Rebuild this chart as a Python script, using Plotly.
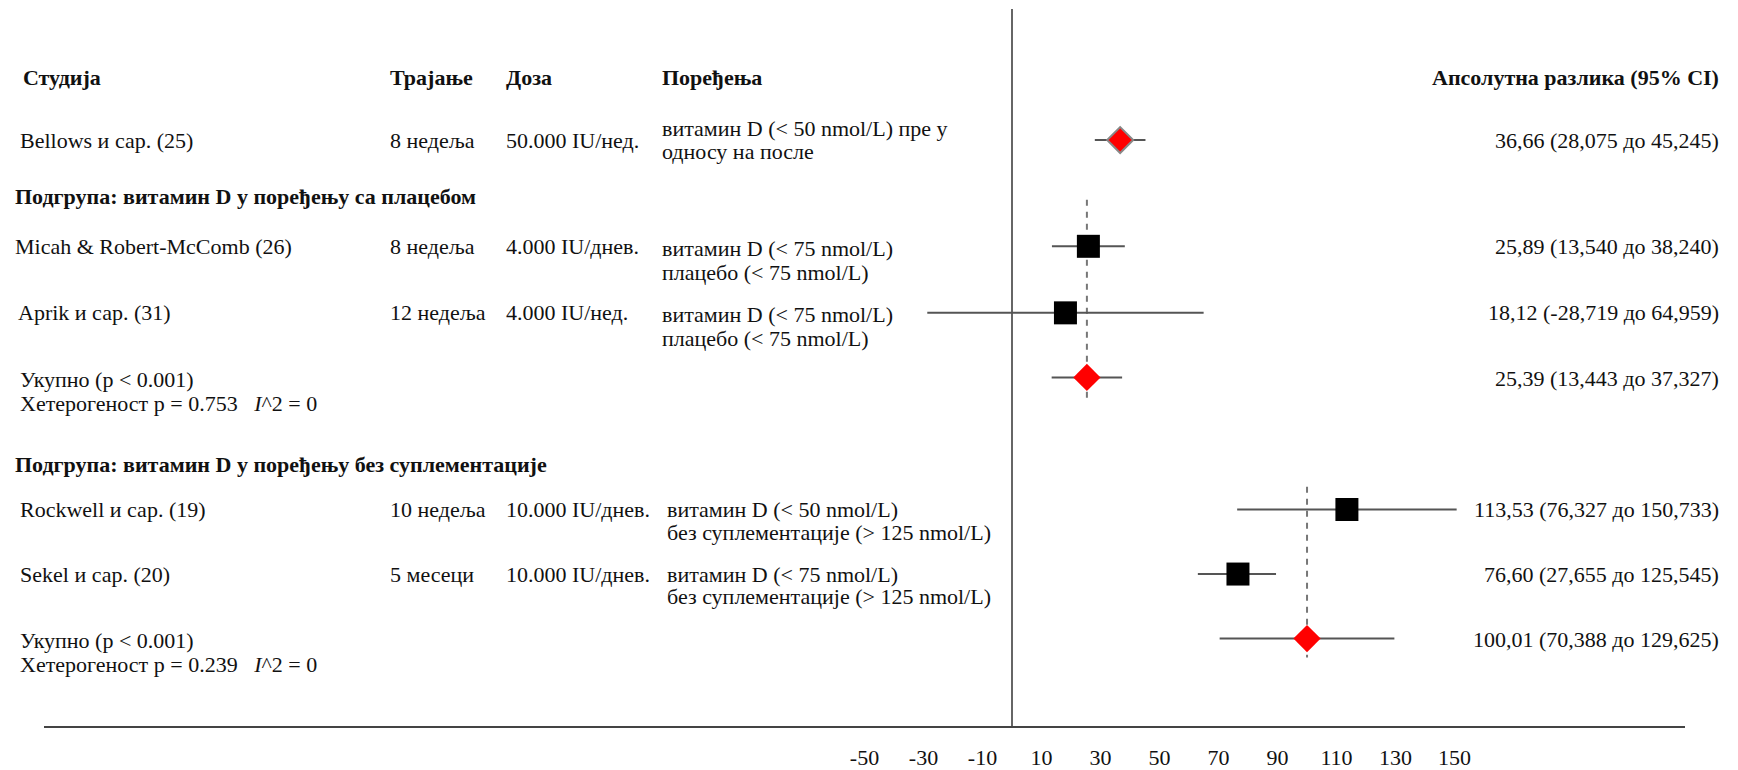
import plotly.graph_objects as go

# ---------------- data ----------------
study_names = ["Bellows и сар. (25)", "Micah & Robert-McComb (26)", "Aprik и сар. (31)",
               "Rockwell и сар. (19)", "Sekel и сар. (20)"]
durations = ["8 недеља", "8 недеља", "12 недеља", "10 недеља", "5 месеци"]
doses = ["50.000 IU/нед.", "4.000 IU/днев.", "4.000 IU/нед.", "10.000 IU/днев.", "10.000 IU/днев."]
comparison_line1 = ["витамин D (< 50 nmol/L) пре у", "витамин D (< 75 nmol/L)", "витамин D (< 75 nmol/L)",
                    "витамин D (< 50 nmol/L)", "витамин D (< 75 nmol/L)"]
comparison_line2 = ["односу на после", "плацебо (< 75 nmol/L)", "плацебо (< 75 nmol/L)",
                    "без суплементације (> 125 nmol/L)", "без суплементације (> 125 nmol/L)"]
study_est = [36.66, 25.89, 18.12, 113.53, 76.60]
study_lo = [28.075, 13.54, -28.719, 76.327, 63.0]     # whisker as drawn
study_hi = [45.245, 38.24, 64.959, 150.733, 89.5]
study_labels = ["36,66 (28,075 до 45,245)", "25,89 (13,540 до 38,240)", "18,12 (-28,719 до 64,959)",
                "113,53 (76,327 до 150,733)", "76,60 (27,655 до 125,545)"]

subgroup_titles = ["Подгрупа: витамин D у поређењу са плацебом",
                   "Подгрупа: витамин D у поређењу без суплементације"]
pooled_est = [25.39, 100.01]
pooled_lo = [13.443, 70.388]
pooled_hi = [37.327, 129.625]
pooled_labels = ["25,39 (13,443 до 37,327)", "100,01 (70,388 до 129,625)"]
pooled_line1 = ["Укупно (p < 0.001)", "Укупно (p < 0.001)"]
pooled_line2 = ["Хетерогеност p = 0.753\u00a0\u00a0\u00a0<i>I</i>^2 = 0",
                "Хетерогеност p = 0.239\u00a0\u00a0\u00a0<i>I</i>^2 = 0"]

headers = ["Студија", "Трајање", "Доза", "Поређења", "Апсолутна разлика (95% CI)"]
tick_values = [-50, -30, -10, 10, 30, 50, 70, 90, 110, 130, 150]

# ---------------- layout (pixel geometry) ----------------
W, H = 1738, 770
ZERO_PX, PX_PER_UNIT = 1012, 2.95
AXIS_Y = 732
HEADER_Y = 78
STUDY_Y = [141, 248, 315, 513, 578]
SUBGROUP_Y = [198, 468]
POOLED_Y = [380, 643]
NAME_X = [18, 13, 16, 18, 18]
COMP_X = [660, 660, 660, 665, 665]
COMP_CENTERED = [True, False, False, False, False]
COMP_OFFSET = [0, 2, 2, 0, 0]
COMP_GAP = [24, 24, 24, 23, 23]
DUR_X, DOSE_X, RIGHT_X = 388, 504, 1721
FONT = "Liberation Serif"
FS = 22
TXT = "#111111"
GRAY = "#555555"

fig = go.Figure()

def pp(xpix):
    return xpix / W

ann = []
def text(xpix, y, s, anchor="left", bold=False):
    ann.append(dict(x=pp(xpix), xref="paper", y=y, yref="y", text=("<b>%s</b>" % s) if bold else s,
                    showarrow=False, xanchor=anchor, yanchor="middle",
                    font=dict(family=FONT, size=FS, color=TXT)))

# headers
text(21, HEADER_Y, headers[0], bold=True)
text(DUR_X, HEADER_Y, headers[1], bold=True)
text(DOSE_X, HEADER_Y, headers[2], bold=True)
text(COMP_X[0], HEADER_Y, headers[3], bold=True)
text(RIGHT_X, HEADER_Y, headers[4], anchor="right", bold=True)

for i, name in enumerate(study_names):
    y = STUDY_Y[i]
    text(NAME_X[i], y, name)
    text(DUR_X, y, durations[i])
    text(DOSE_X, y, doses[i])
    if COMP_CENTERED[i]:
        y1, y2 = y - COMP_GAP[i] / 2, y + COMP_GAP[i] / 2
    else:
        y1, y2 = y + COMP_OFFSET[i], y + COMP_OFFSET[i] + COMP_GAP[i]
    text(COMP_X[i], y1, comparison_line1[i])
    text(COMP_X[i], y2, comparison_line2[i])
    text(RIGHT_X, y, study_labels[i], anchor="right")

for j, t in enumerate(subgroup_titles):
    text(13, SUBGROUP_Y[j], t, bold=True)

for j in range(2):
    y = POOLED_Y[j]
    text(18, y + 2, pooled_line1[j])
    text(18, y + 26, pooled_line2[j])
    text(RIGHT_X, y + 1, pooled_labels[j], anchor="right")

# whiskers
wx, wy = [], []
for lo, hi, y in zip(study_lo + pooled_lo, study_hi + pooled_hi, STUDY_Y + POOLED_Y):
    wx += [lo, hi, None]
    wy += [y, y, None]
fig.add_trace(go.Scatter(x=wx, y=wy, mode="lines", line=dict(color=GRAY, width=2),
                         hoverinfo="skip", showlegend=False))

# study squares (subgroup studies)
fig.add_trace(go.Scatter(x=study_est[1:], y=STUDY_Y[1:], mode="markers",
                         marker=dict(symbol="square", size=23, color="black",
                                     line=dict(width=0)), showlegend=False))
# single-study diamond
fig.add_trace(go.Scatter(x=study_est[:1], y=STUDY_Y[:1], mode="markers",
                         marker=dict(symbol="diamond", size=20, color="#ff0000",
                                     line=dict(width=2, color="#888888")), showlegend=False))
# pooled diamonds
fig.add_trace(go.Scatter(x=pooled_est, y=POOLED_Y, mode="markers",
                         marker=dict(symbol="diamond", size=21, color="#ff0000",
                                     line=dict(width=0)), showlegend=False))

shapes = [
    # zero line
    dict(type="line", xref="x", yref="y", x0=0, x1=0, y0=9, y1=AXIS_Y,
         line=dict(color="#333333", width=1.5), layer="below"),
    # axis line
    dict(type="line", xref="paper", yref="paper", x0=pp(44), x1=pp(1685), y0=0, y1=0,
         line=dict(color="#444444", width=2)),
    # pooled reference dashed lines
    dict(type="line", xref="x", yref="y", x0=pooled_est[0], x1=pooled_est[0], y0=201, y1=402,
         line=dict(color="#777777", width=2, dash="6px,6px"), layer="below"),
    dict(type="line", xref="x", yref="y", x0=pooled_est[1], x1=pooled_est[1], y0=490, y1=662,
         line=dict(color="#777777", width=2, dash="6px,6px"), layer="below"),
]

fig.update_layout(
    width=W, height=H,
    margin=dict(l=0, r=0, t=0, b=H - AXIS_Y),
    paper_bgcolor="white", plot_bgcolor="white",
    annotations=ann, shapes=shapes,
    xaxis=dict(range=[(0 - ZERO_PX) / PX_PER_UNIT, (W - ZERO_PX) / PX_PER_UNIT],
               tickvals=tick_values, ticktext=[str(v) for v in tick_values],
               tickfont=dict(family=FONT, size=FS, color=TXT),
               ticks="", showgrid=False, zeroline=False, showline=False,
               ticklabelstandoff=15, fixedrange=True),
    yaxis=dict(range=[AXIS_Y, 0], visible=False, showgrid=False, zeroline=False, fixedrange=True),
    showlegend=False,
)

fig.write_html("out.html", config={"displayModeBar": False},
               post_script="document.body.style.margin='0';document.body.style.overflow='hidden';")
